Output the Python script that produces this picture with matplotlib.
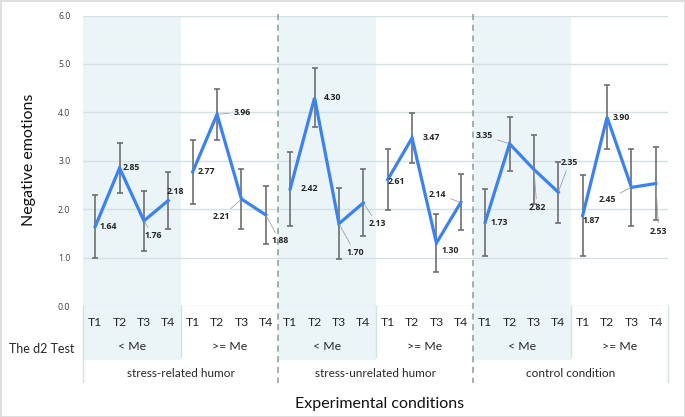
import matplotlib
matplotlib.use("Agg")
import matplotlib.pyplot as plt
import numpy as np
from matplotlib.patches import Rectangle

plt.rcParams['font.family'] = ['Lato', 'DejaVu Sans']

conditions = ["stress-related humor", "stress-unrelated humor", "control condition"]
d2_groups = ["< Me", ">= Me"]
times = ["T1", "T2", "T3", "T4"]

# mean negative emotions per group (condition x d2 group), T1..T4
means = [
    [1.64, 2.85, 1.76, 2.18],
    [2.77, 3.96, 2.21, 1.88],
    [2.42, 4.30, 1.70, 2.13],
    [2.61, 3.47, 1.30, 2.14],
    [1.73, 3.35, 2.82, 2.35],
    [1.87, 3.90, 2.45, 2.53],
]
# error bar half-widths
errors = [
    [0.65, 0.52, 0.62, 0.58],
    [0.66, 0.53, 0.62, 0.60],
    [0.76, 0.61, 0.73, 0.69],
    [0.63, 0.51, 0.60, 0.58],
    [0.69, 0.56, 0.71, 0.63],
    [0.83, 0.66, 0.79, 0.75],
]

# label offsets in pixels (dx, dy) and whether a leader line is drawn
label_offsets = [
    [(13, 0), (12, 1), (9, -15), (7, 9)],
    [(14, 0), (25, 2), (-20, -18), (14, -26)],
    [(19, 0), (18, 0), (16, -29), (14, -21)],
    [(9, -2), (19, 0), (14, -7), (-23, 8)],
    [(14, 0), (-25, 8), (3, -38), (11, 30)],
    [(9, -5), (14, 0), (-24, -12), (3, -48)],
]
leaders = [
    [0, 0, 1, 0],
    [0, 1, 1, 1],
    [0, 0, 1, 1],
    [0, 0, 0, 1],
    [0, 1, 1, 1],
    [0, 0, 1, 1],
]

blue = "#3b82f0"
shade = "#ebf5f8"
grid = "#d3e0e4"
dark = "#262626"
num_font = ["Open Sans", "DejaVu Sans"]

fig = plt.figure(figsize=(6.85, 4.17), dpi=100)
ax = fig.add_axes([83 / 685, 1 - 306 / 417, 585 / 685, 290.5 / 417])
trans = ax.get_xaxis_transform()

ax.set_xlim(-0.5, 23.5)
ax.set_ylim(0, 6)

# shaded "< Me" columns, extending into the category table
for g in range(0, 6, 2):
    ax.add_patch(Rectangle((g * 4 - 0.5, -0.186), 4, 1.186, transform=trans,
                           facecolor=shade, edgecolor="none", clip_on=False, zorder=0))

for v in range(0, 7):
    ax.axhline(v, color=grid, lw=1, zorder=1)

for g in range(6):
    x = np.arange(4) + g * 4
    ax.errorbar(x, means[g], yerr=errors[g], fmt="none", ecolor="#6e6e6e",
                elinewidth=1.2, capsize=2.5, capthick=1.2, zorder=2)
    ax.plot(x, means[g], color=blue, lw=2.3, zorder=3, solid_joinstyle="miter")
    for t in range(4):
        dx, dy = label_offsets[g][t]
        kw = {}
        if leaders[g][t]:
            kw["arrowprops"] = dict(arrowstyle="-", color="#a0a0a0", lw=0.6,
                                    shrinkA=1, shrinkB=1)
        ax.annotate(f"{means[g][t]:.2f}", (x[t], means[g][t]), xytext=(dx, dy),
                    textcoords="offset pixels", ha="center", va="center",
                    fontsize=6.3, fontweight="bold", color=dark, zorder=4,
                    family=num_font, **kw)

# category table under the axis
for g in range(6):
    for t in range(4):
        ax.text(g * 4 + t, -0.0585, times[t], transform=trans, ha="center",
                va="center", fontsize=8.8, color=dark)
    ax.text(g * 4 + 1.5, -0.141, d2_groups[g % 2], transform=trans, ha="center",
            va="center", fontsize=8.8, color=dark)
for c in range(3):
    ax.text(c * 8 + 3.5, -0.231, conditions[c], transform=trans, ha="center",
            va="center", fontsize=8.5, color=dark)
    ax.plot([c * 8 + 3.5] * 2, [0, -0.176], transform=trans, color=grid,
            lw=1, clip_on=False)
for xb in (-0.5, 23.5):
    ax.plot([xb, xb], [0, -0.262], transform=trans, color=grid, lw=1, clip_on=False)
for xb in (7.5, 15.5):
    ax.plot([xb, xb], [1.005, -0.265], transform=trans, color="#8c9a9a", lw=1.1,
            ls=(0, (4, 3)), clip_on=False, zorder=5)

fig.text(42 / 685, 1 - 349 / 417, "The d2 Test", ha="center", va="center",
         fontsize=9, color=dark)

ax.set_xticks([])
ax.set_yticks(range(7))
ax.set_yticklabels([f"{v:.1f}" for v in range(7)], family=num_font)
ax.tick_params(axis="y", length=0, pad=9, labelsize=6.3, labelcolor="#404040")
for s in ax.spines.values():
    s.set_visible(False)

fig.text(29 / 685, 1 - 160 / 417, "Negative emotions", rotation=90, ha="center",
         va="center", fontsize=11.5, color="#111111")
fig.text(380 / 685, 1 - 404 / 417, "Experimental conditions", ha="center",
         va="center", fontsize=11.5, color="#111111")

fig.patches.append(Rectangle((0, 0), 1, 1, transform=fig.transFigure, fill=False,
                             edgecolor="#dcdcdc", lw=2))

fig.savefig("out.png", dpi=100)
